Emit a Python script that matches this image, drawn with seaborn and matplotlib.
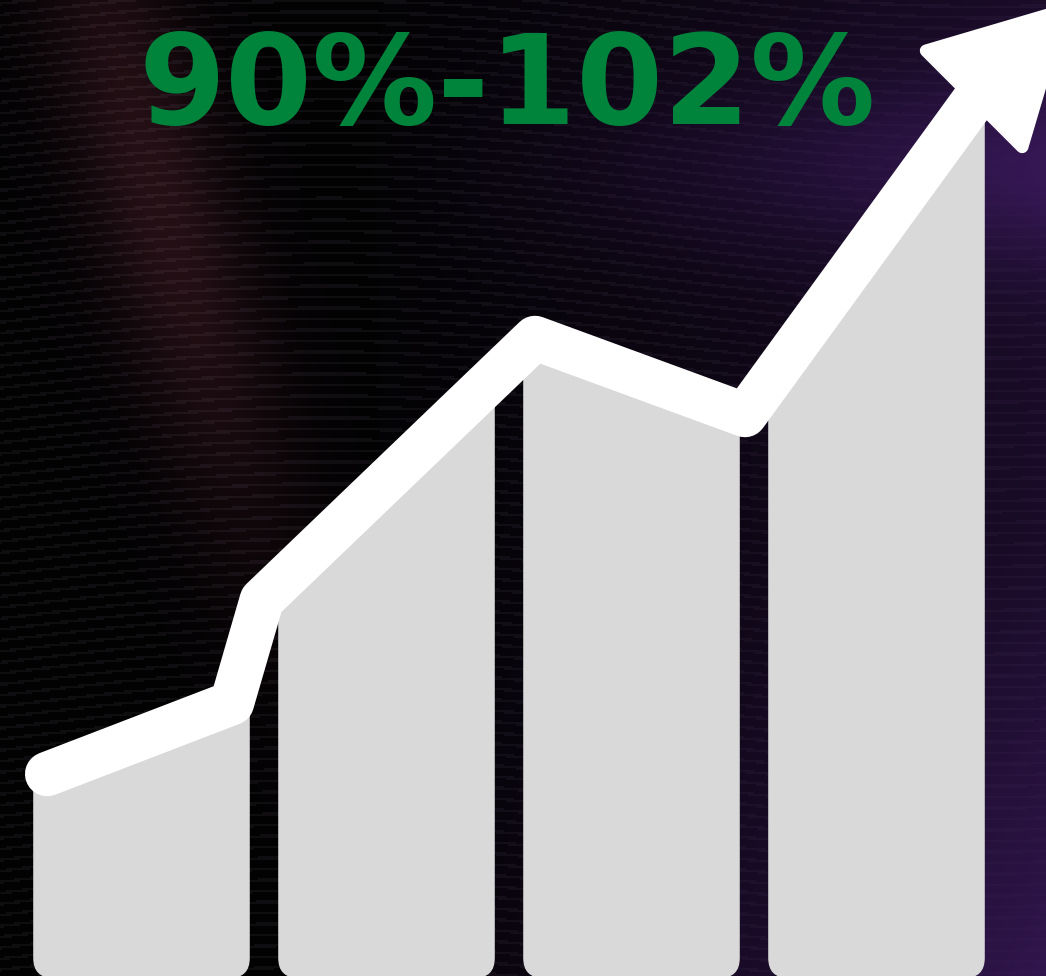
import numpy as np
import matplotlib
matplotlib.use("Agg")
import matplotlib.pyplot as plt
import seaborn as sns
from matplotlib.patches import FancyBboxPatch, Polygon

# bars (4 categories), heights in chart units (bottom = 0, top = 976)
bar_labels = ["1", "2", "3", "4"]
bar_heights = [241, 531, 611, 843]

# trend line through the bars (x in category units, y in chart units)
line_x = [-0.385, 0.369, 0.491, 1.606, 2.463, 3.410]
line_y = [202, 273, 376, 638, 561, 880]

title_text = "90%-102%"

W, H, DPI = 1046, 976, 100
px_per_cat = 245.0
x_left = -141.5 / px_per_cat
x_right = (W - 141.5) / px_per_cat

sns.set_theme(style="white")
plt.rcParams["font.family"] = ["DejaVu Sans"]

fig = plt.figure(figsize=(W / DPI, H / DPI), dpi=DPI)
ax = fig.add_axes([0, 0, 1, 1])

# dark background: purple glow on the right, faint reddish mesh on the left
ny, nx = 488, 523
gx = np.linspace(0, 1, nx)[None, :]
gy = np.linspace(0, 1, ny)[:, None]  # 0 = top
purple = np.clip((gx - 0.35) / 0.65, 0, 1) ** 1.2
purple = purple * (0.45 + 0.55 * np.exp(-((gy - 0.17) / 0.10) ** 2)
                   + 0.45 * np.clip((gy - 0.55) / 0.45, 0, 1))
redglow = 0.6 * np.exp(-((gx - 0.10 - 0.25 * gy) / 0.07) ** 2) * np.exp(-((gy - 0.2) / 0.35) ** 2)
stripes = (np.sin((gy * 976 + 25 * np.sin(gx * 5)) * 2 * np.pi / 11) > 0.7) * (1 - purple)
bg = np.zeros((ny, nx, 3))
bg[..., 0] = 0.012 + 0.20 * purple + 0.22 * redglow + 0.045 * stripes
bg[..., 1] = 0.008 + 0.085 * purple + 0.09 * redglow + 0.045 * stripes
bg[..., 2] = 0.014 + 0.32 * purple + 0.12 * redglow + 0.05 * stripes
ax.imshow(np.clip(bg, 0, 1), extent=[x_left, x_right, 0, H], aspect="auto", zorder=0)

# bars
sns.barplot(x=bar_labels, y=bar_heights, color="#d9d9d9", width=0.884,
            saturation=1, ax=ax, zorder=2)
ax.set_xlim(x_left, x_right)
ax.set_ylim(0, H)

# area under the trend line, used to cut the bar tops
dx = line_x[-1] - line_x[-2]
dy = line_y[-1] - line_y[-2]
ext_x = x_right + 0.1
ext_y = line_y[-1] + dy / dx * (ext_x - line_x[-1])
clip_pts = ([(x_left - 0.1, line_y[0] - 8)] + list(zip(line_x, line_y)) +
            [(ext_x, ext_y), (ext_x, -10), (x_left - 0.1, -10)])
clip_poly = Polygon(clip_pts, closed=True, transform=ax.transData)

r_x = 20 / px_per_cat
for p in list(ax.patches):
    x0, y0 = p.get_x(), p.get_y()
    w = p.get_width()
    p.remove()
    rb = FancyBboxPatch((x0, y0 - 2), w, H, boxstyle=f"round,pad=0,rounding_size={r_x}",
                        mutation_aspect=20 / r_x, facecolor="#d9d9d9", edgecolor="none", zorder=2)
    ax.add_patch(rb)
    rb.set_clip_path(clip_poly)

# trend line
sns.lineplot(x=line_x, y=line_y, sort=False, color="white", linewidth=32, ax=ax, zorder=3)
ln = ax.lines[-1]
ln.set_solid_capstyle("round")
ln.set_solid_joinstyle("round")

# arrow head at the end of the line, built in display space
# (head is turned a little clockwise from the last segment)
fig.canvas.draw()
p_end = ax.transData.transform((line_x[-1], line_y[-1]))
p_prev = ax.transData.transform((line_x[-2], line_y[-2]))
d = (p_end - p_prev) / np.linalg.norm(p_end - p_prev)
t = np.deg2rad(-9)
d = np.array([d[0] * np.cos(t) - d[1] * np.sin(t), d[0] * np.sin(t) + d[1] * np.cos(t)])
n = np.array([-d[1], d[0]])
base = p_end - d * 4
head = np.array([base + n * 68, base + d * 125, base - n * 68])
head_data = ax.transData.inverted().transform(head)
ax.add_patch(Polygon(head_data, closed=True, facecolor="white", edgecolor="white",
                     linewidth=9, joinstyle="round", zorder=4))

ax.set_axis_off()

fig.text(0.485, 1 - 124 / H, title_text, color="#00843c", fontsize=90,
         fontweight="bold", ha="center", va="baseline")

fig.savefig("out.png", dpi=DPI)
